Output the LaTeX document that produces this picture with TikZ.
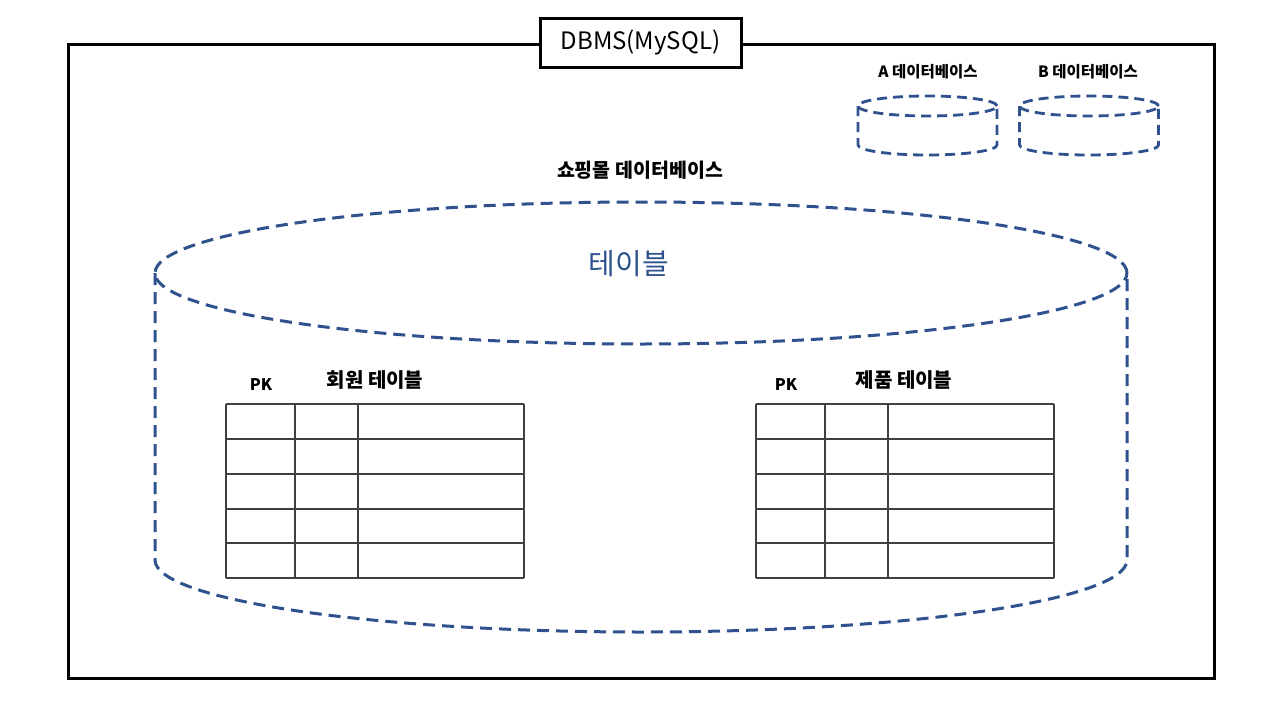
\documentclass[tikz,border=0pt]{standalone}
\usepackage{fontspec}
\setmainfont{Noto Sans CJK KR}
\definecolor{dbblue}{HTML}{2F528F}
\tikzset{
  frame/.style={draw=black, line width=3pt},
  cyl/.style={draw=dbblue, line width=3pt, dash pattern=on 12pt off 7pt},
  smallcyl/.style={draw=dbblue, line width=2.8pt, dash pattern=on 10pt off 6pt},
  grid/.style={draw=black!75, line width=1.4pt},
  lbl/.style={inner sep=0pt, font=\bfseries\fontsize{15.5}{17}\selectfont},
  tlbl/.style={inner sep=0pt, font=\bfseries\fontsize{20}{22}\selectfont},
}
\begin{document}
\begin{tikzpicture}[x=1pt,y=-1pt]
\useasboundingbox (0,0) rectangle (1280,720);
\fill[white] (0,0) rectangle (1280,720);
% outer DBMS frame
\node[frame, minimum width=1146pt, minimum height=634pt, inner sep=0pt, anchor=north west] (dbms) at (67,43) {};
\node[frame, fill=white, minimum width=201pt, minimum height=49pt, inner sep=0pt, font=\fontsize{24}{28}\selectfont] (title) at (640.5,42.5) {DBMS(MySQL)};

% small databases
\node[lbl] (alabel) at (928,72) {A 데이터베이스};
\node[lbl] (blabel) at (1088,72) {B 데이터베이스};
\coordinate (acyl) at (927.5,106);
\coordinate (bcyl) at (1089,106);
\foreach \c in {acyl,bcyl}{
  \draw[smallcyl] (\c) ellipse[x radius=69.5pt, y radius=10pt];
  \draw[smallcyl] ([xshift=-69.5pt]\c) -- ([xshift=-69.5pt,yshift=-39pt]\c)
     arc[start angle=180, end angle=360, x radius=69.5pt, y radius=10pt]
     -- ([xshift=69.5pt]\c);
}

% big database
\node[lbl, font=\bfseries\fontsize{19.5}{21}\selectfont] (shop) at (640,170) {쇼핑몰 데이터베이스};
\coordinate (big) at (641,273);
\draw[cyl] (big) ellipse[x radius=486pt, y radius=71pt];
\draw[cyl] (155,273) -- (155,560)
   arc[start angle=180, end angle=360, x radius=486pt, y radius=72pt] -- (1127,273);
\node[inner sep=0pt, text=dbblue, font=\fontsize{29}{32}\selectfont] (tbl) at (629,264) {테이블};

% tables
\node[lbl, font=\bfseries\fontsize{16}{18}\selectfont] (pk1) at (261,385) {PK};
\node[tlbl] (t1) at (375,380) {회원 테이블};
\node[lbl, font=\bfseries\fontsize{16}{18}\selectfont] (pk2) at (786,385) {PK};
\node[tlbl] (t2) at (904,380) {제품 테이블};

\foreach \xa/\xb/\xc/\xd in {226/295/358/524, 756/825/888/1054}{
  \foreach \y in {404,439,474,509,543,578}
    \draw[grid] (\xa,\y) -- (\xd,\y);
  \foreach \x in {\xa,\xb,\xc,\xd}
    \draw[grid] (\x,404) -- (\x,578);
}
\end{tikzpicture}
\end{document}
